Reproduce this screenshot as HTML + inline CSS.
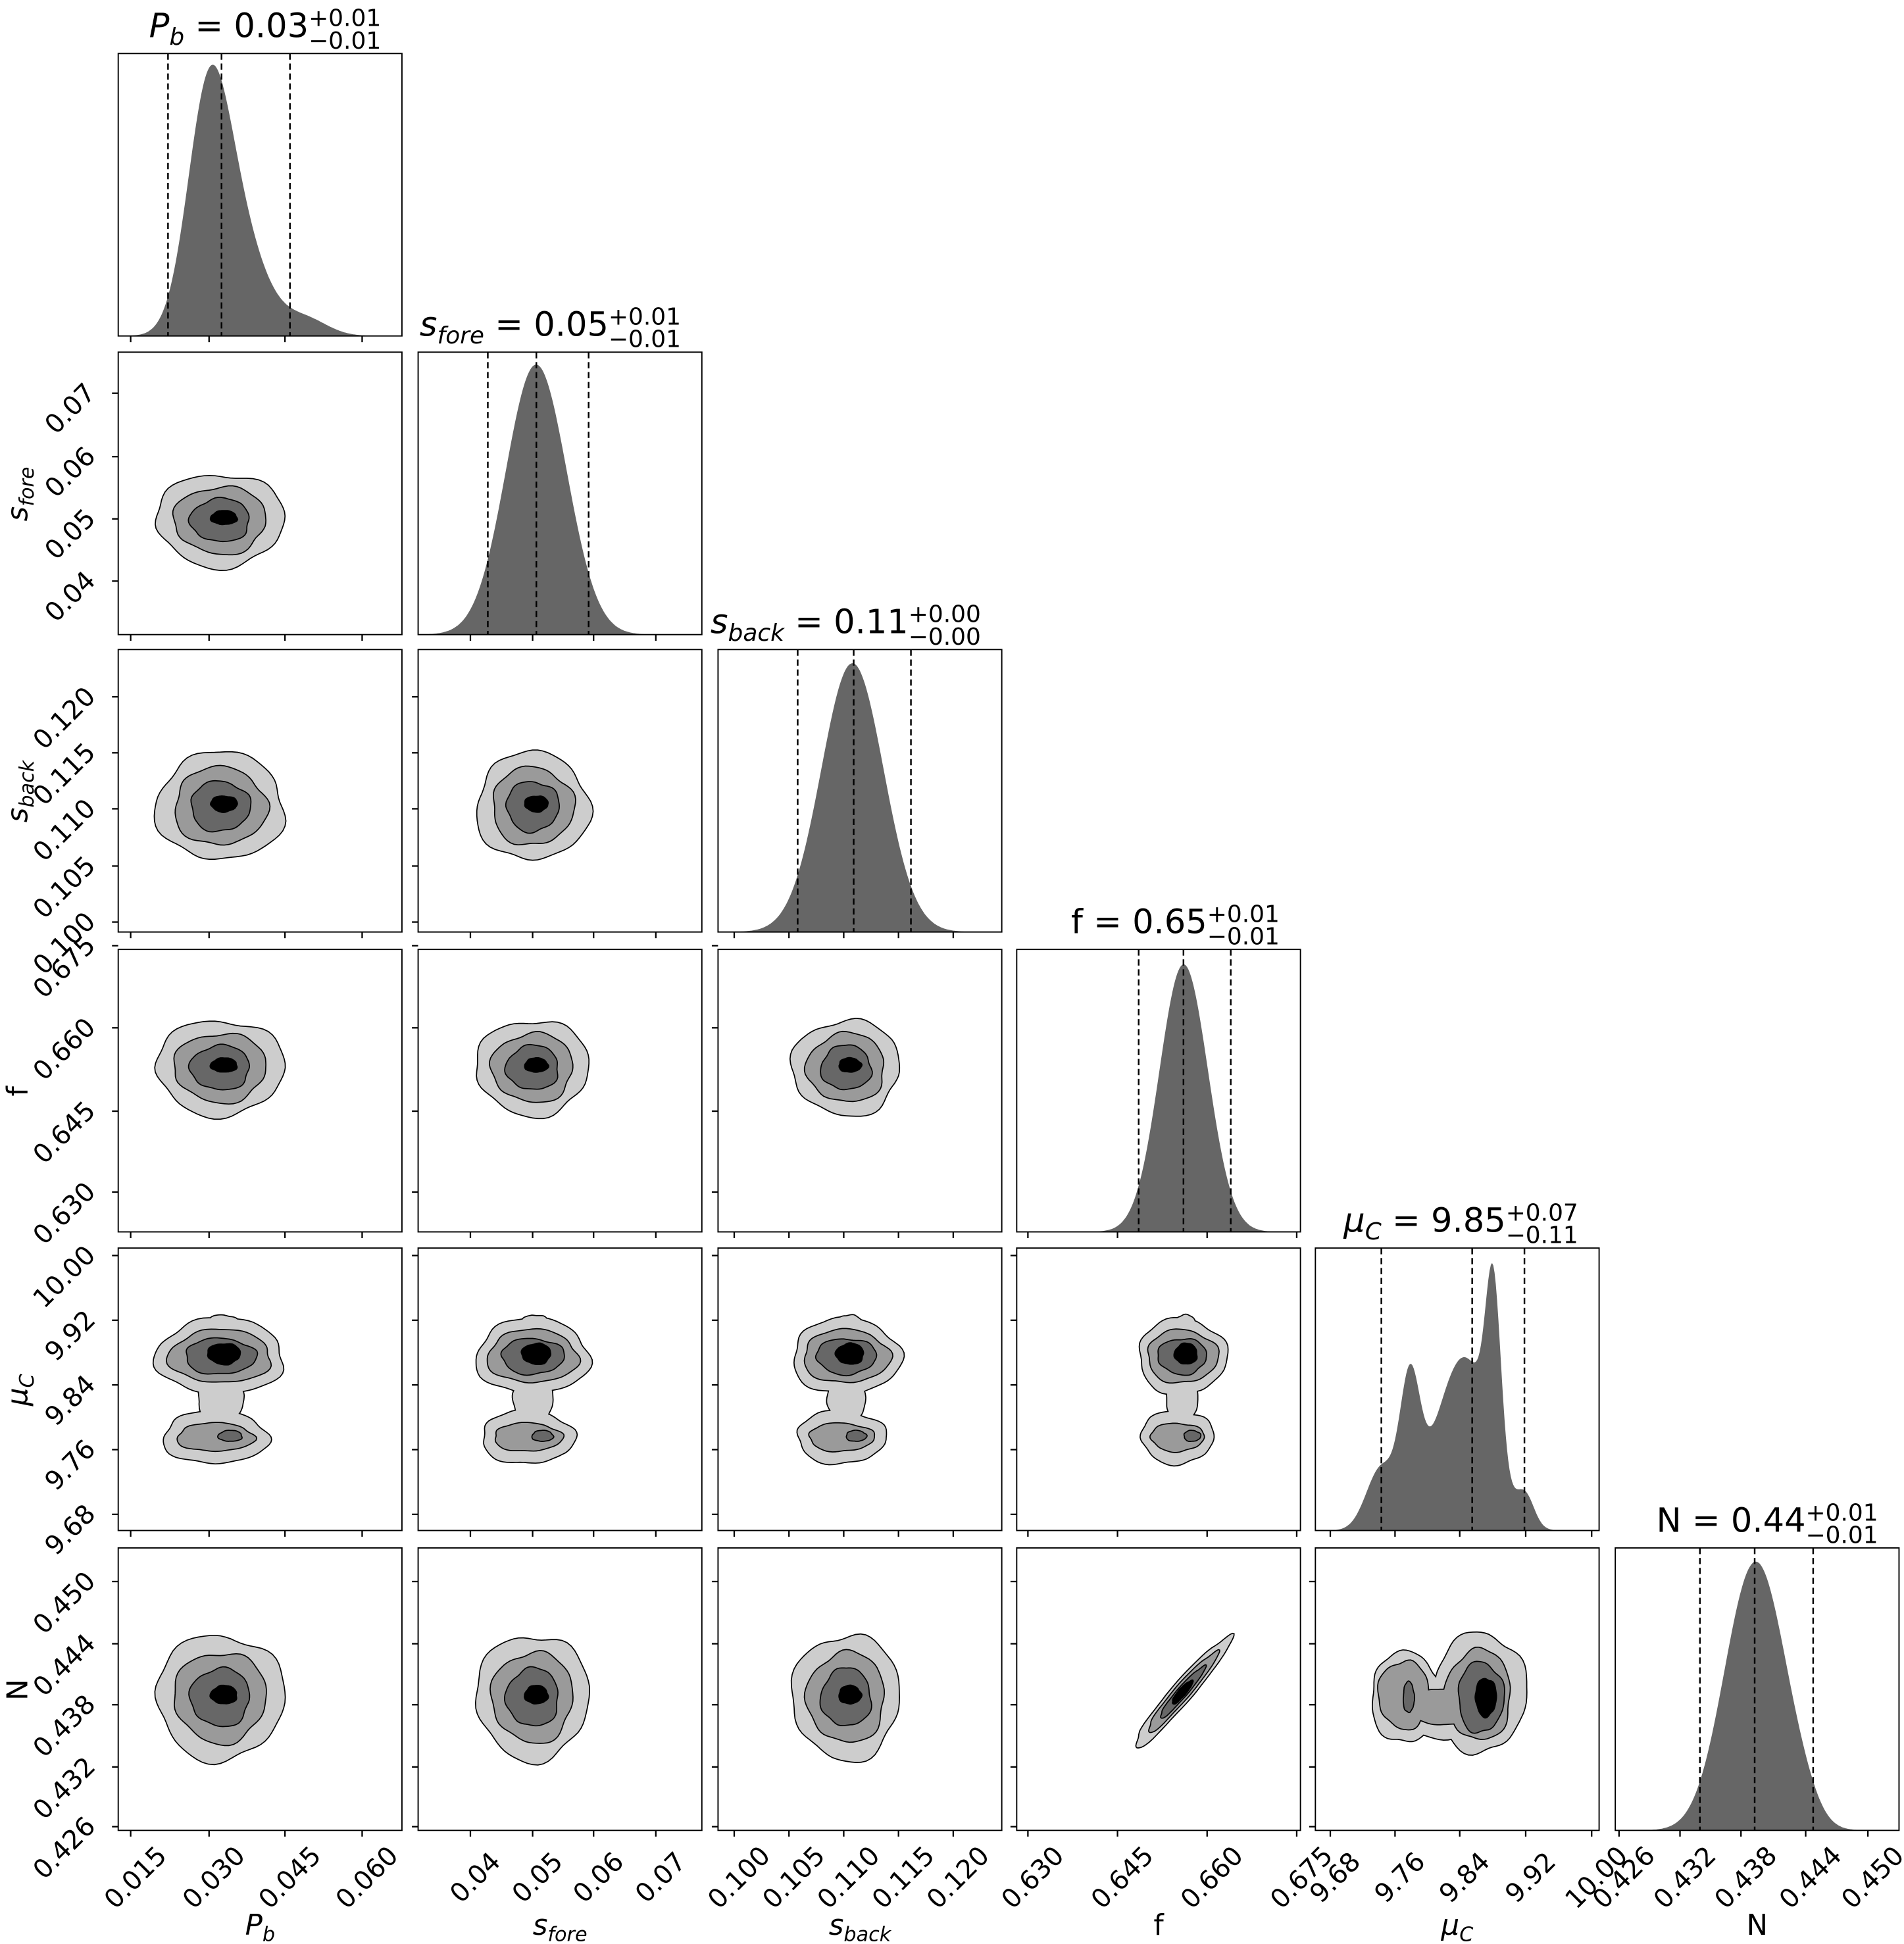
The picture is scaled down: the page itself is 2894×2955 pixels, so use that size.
<!DOCTYPE html>
<html><head><meta charset="utf-8"><style>html,body{margin:0;padding:0;background:#fff}svg{display:block}</style></head>
<body>
<svg id="s" xmlns="http://www.w3.org/2000/svg" width="2894" height="2955" viewBox="0 0 1530 1562.3" preserveAspectRatio="none" font-family="'DejaVu Sans','Liberation Sans',sans-serif"></svg>
<script>
const svg=document.getElementById('s');
let out='';
const X0=[95,336,577,817,1057,1298],Y0=[43,283,522,763,1003,1244],W=228,H=227;
const xt=[[105,168,229,291],[378,428,477,527],[590,634,678,722,766],[826,898,970,1042],[1069,1121,1173,1226,1279],[1301,1350,1399,1451,1501]];
const xl=[["0.015","0.030","0.045","0.060"],["0.04","0.05","0.06","0.07"],["0.100","0.105","0.110","0.115","0.120"],["0.630","0.645","0.660","0.675"],["9.68","9.76","9.84","9.92","10.00"],["0.426","0.432","0.438","0.444","0.450"]];
const yt=[null,[316,367,417,467],[560,605,650,696,741],[760,826,893,958],[1009,1061,1113,1165,1217],[1271,1321,1370,1420,1468]];
const yl=[null,["0.07","0.06","0.05","0.04"],["0.120","0.115","0.110","0.105","0.100"],["0.675","0.660","0.645","0.630"],["10.00","9.92","9.84","9.76","9.68"],["0.450","0.444","0.438","0.432","0.426"]];
const cols=['#cdcdcd','#9a9a9a','#676767','#000'];
function blob(cx,cy,rx,ry,seed,rot){rot=rot||0;let p='';const c=Math.cos(rot),s=Math.sin(rot);
 for(let i=0;i<=72;i++){const t=i/72*2*Math.PI;const k=1+0.045*Math.sin(3*t+seed)+0.03*Math.sin(5*t+2*seed)+0.02*Math.sin(8*t+seed*3);
 const x=rx*k*Math.cos(t),y=ry*k*Math.sin(t);p+=(i?'L':'M')+(cx+x*c-y*s).toFixed(1)+','+(cy+x*s+y*c).toFixed(1);}return p+'Z';}
function level(shapes,col){let a='',b='';shapes.forEach(d=>{a+=`<path d="${d}" fill="${col}" stroke="#000" stroke-width="1.8"/>`;b+=`<path d="${d}" fill="${col}"/>`;});return a+b;}
function hist(c,r,comps,top,dashes){const x0=X0[c],bot=Y0[r]+H;let vals=[];let mx=0;
 for(let x=x0;x<=x0+W;x+=1){let v=0;comps.forEach(g=>{v+=g[2]*Math.exp(-0.5*((x-g[0])/g[1])**2)});vals.push(v);if(v>mx)mx=v;}
 let p=`M${x0},${bot}`;vals.forEach((v,i)=>{p+=`L${x0+i},${(bot-(bot-top)*v/mx).toFixed(1)}`});p+=`L${x0+W},${bot}Z`;
 out+=`<path d="${p}" fill="#666"/>`;
 dashes.forEach(d=>{out+=`<line x1="${d}" y1="${Y0[r]}" x2="${d}" y2="${bot}" stroke="#000" stroke-width="1.3" stroke-dasharray="5,3"/>`});}
hist(0,0,[[167,17,0.85],[190,22,0.42],[245,18,0.07]],52,[135,178,233]);
hist(1,1,[[430,24,1],[455,20,0.05]],293,[392,431,473]);
hist(2,2,[[685,25,1]],533,[641,686,732]);
hist(3,3,[[950,19,1],[965,18,0.1]],775,[915,951,989]);
hist(4,4,[[1200,6,0.6],[1180,20,0.55],[1133,8,0.45],[1110,12,0.22],[1226,7,0.1],[1155,18,0.15]],1015,[1110,1183,1225]);
hist(5,5,[[1403,22,0.9],[1425,20,0.5],[1450,12,0.05]],1255,[1366,1410,1457]);
const pxC=[82,92,103,133],pxR=[51,45,43,35];
const pyC=[0,135,126,95,0,120],pyR=[0,37,43,38,0,50];
const sc=[1,0.72,0.46,0.2];
for(let r=1;r<6;r++)for(let c=0;c<r;c++){const x0=X0[c],y0=Y0[r];const seed=r*3+c*7;
 if(r==4){const cx=x0+pxC[c],rx=pxR[c],ty=y0+87,by=y0+152;
  out+=level([blob(cx,ty,rx,30,seed),blob(cx-4,by,rx*0.82,21,seed+1),blob(cx,y0+122,rx*0.35,20,seed+2),blob(cx+2,y0+62,rx*0.25,8,seed+3)],cols[0]);
  out+=level([blob(cx,ty,rx*0.8,21,seed),blob(cx-4,by,rx*0.6,11,seed+1)],cols[1]);
  out+=level([blob(cx,ty,rx*0.55,14,seed+2),blob(cx+8,by-1,rx*0.18,4,seed)],cols[2]);
  out+=level([blob(cx+3,ty-2,rx*0.25,8,seed+4)],cols[3]);}
 else if(r==5&&c==4){const cy=y0+120;
  out+=level([blob(1130,cy,28,36,1),blob(1190,cy-4,36,48,2),blob(1160,cy+8,38,24,3)],cols[0]);
  out+=level([blob(1128,cy-2,20,27,4),blob(1188,cy-2,26,36,5),blob(1160,cy+8,30,14,6)],cols[1]);
  out+=level([blob(1132,cy,4,12,7),blob(1190,cy,18,28,8)],cols[2]);
  out+=level([blob(1194,cy,8,15,9)],cols[3]);}
 else if(r==5&&c==3){for(let k=0;k<4;k++)out+=level([blob(950,1360,58*sc[k],8*sc[k]+ (k==3?1:0),0.5,-0.86)],cols[k]);}
 else{const cx=x0+pxC[c],cy=y0+pyC[r];
  for(let k=0;k<4;k++){const f=sc[k];out+=level([blob(cx+(k==3?3:0),cy+(k==3?-2:0),pxR[c]*f,pyR[r]*f*(k==3?0.7:1),seed+k)],cols[k]);}}
}
for(let r=0;r<6;r++)for(let c=0;c<=r;c++){const x0=X0[c],y0=Y0[r];
 out+=`<rect x="${x0}" y="${y0}" width="${W}" height="${H}" fill="none" stroke="#000" stroke-width="1"/>`;
 xt[c].forEach(t=>{out+=`<line x1="${t}" y1="${y0+H}" x2="${t}" y2="${y0+H+5}" stroke="#000" stroke-width="1.2"/>`});
 if(c<r)yt[r].forEach(t=>{out+=`<line x1="${x0-5}" y1="${t}" x2="${x0}" y2="${t}" stroke="#000" stroke-width="1.2"/>`});}
const fs=21;
for(let c=0;c<6;c++){const b=Y0[5]+H;xt[c].forEach((t,i)=>{const X=t+4,Y=b+38;out+=`<text x="${X}" y="${Y}" font-size="${fs}" text-anchor="middle" dominant-baseline="central" transform="rotate(-45 ${X} ${Y})">${xl[c][i]}</text>`})}
for(let r=1;r<6;r++){yt[r].forEach((t,i)=>{const X=X0[0]-22,Y=t-4;out+=`<text x="${X}" y="${Y}" font-size="${fs}" text-anchor="end" dominant-baseline="central" transform="rotate(-45 ${X} ${Y})">${yl[r][i]}</text>`})}
const xlab=[['P','b',true],['s','fore',true],['s','back',true],['f','',false],['μ','C',true],['N','',false]];
xlab.forEach((l,c)=>{const X=X0[c]+114,Y=1555;out+=`<text x="${X}" y="${Y}" font-size="23" text-anchor="middle"><tspan font-style="${l[2]?'italic':'normal'}">${l[0]}</tspan><tspan font-style="italic" font-size="16" dy="5">${l[1]}</tspan></text>`;});
for(let r=1;r<6;r++){const l=xlab[r];const X=22,Y=Y0[r]+114;out+=`<text x="${X}" y="${Y}" font-size="23" text-anchor="middle" transform="rotate(-90 ${X} ${Y})"><tspan font-style="${l[2]?'italic':'normal'}">${l[0]}</tspan><tspan font-style="italic" font-size="16" dy="5">${l[1]}</tspan></text>`;}
const tt=[['P','b','0.03','0.01','0.01'],['s','fore','0.05','0.01','0.01'],['s','back','0.11','0.00','0.00'],['f','','0.65','0.01','0.01'],['μ','C','9.85','0.07','0.11'],['N','','0.44','0.01','0.01']];
tt.forEach((t,c)=>{const e=X0[c]+153,top=Y0[c];const it=(c!=3&&c!=5);
 out+=`<text x="${e}" y="${top-13}" font-size="27" text-anchor="end"><tspan font-style="${it?'italic':'normal'}">${t[0]}</tspan>${t[1]?`<tspan font-style="italic" font-size="19" dy="6">${t[1]}</tspan><tspan dy="-6"> = ${t[2]}</tspan>`:` = ${t[2]}`}</text>`;
 out+=`<text x="${e}" y="${top-22}" font-size="19">+${t[3]}</text><text x="${e}" y="${top-4}" font-size="19">−${t[4]}</text>`;});
svg.innerHTML=out;
</script>
</body></html>
